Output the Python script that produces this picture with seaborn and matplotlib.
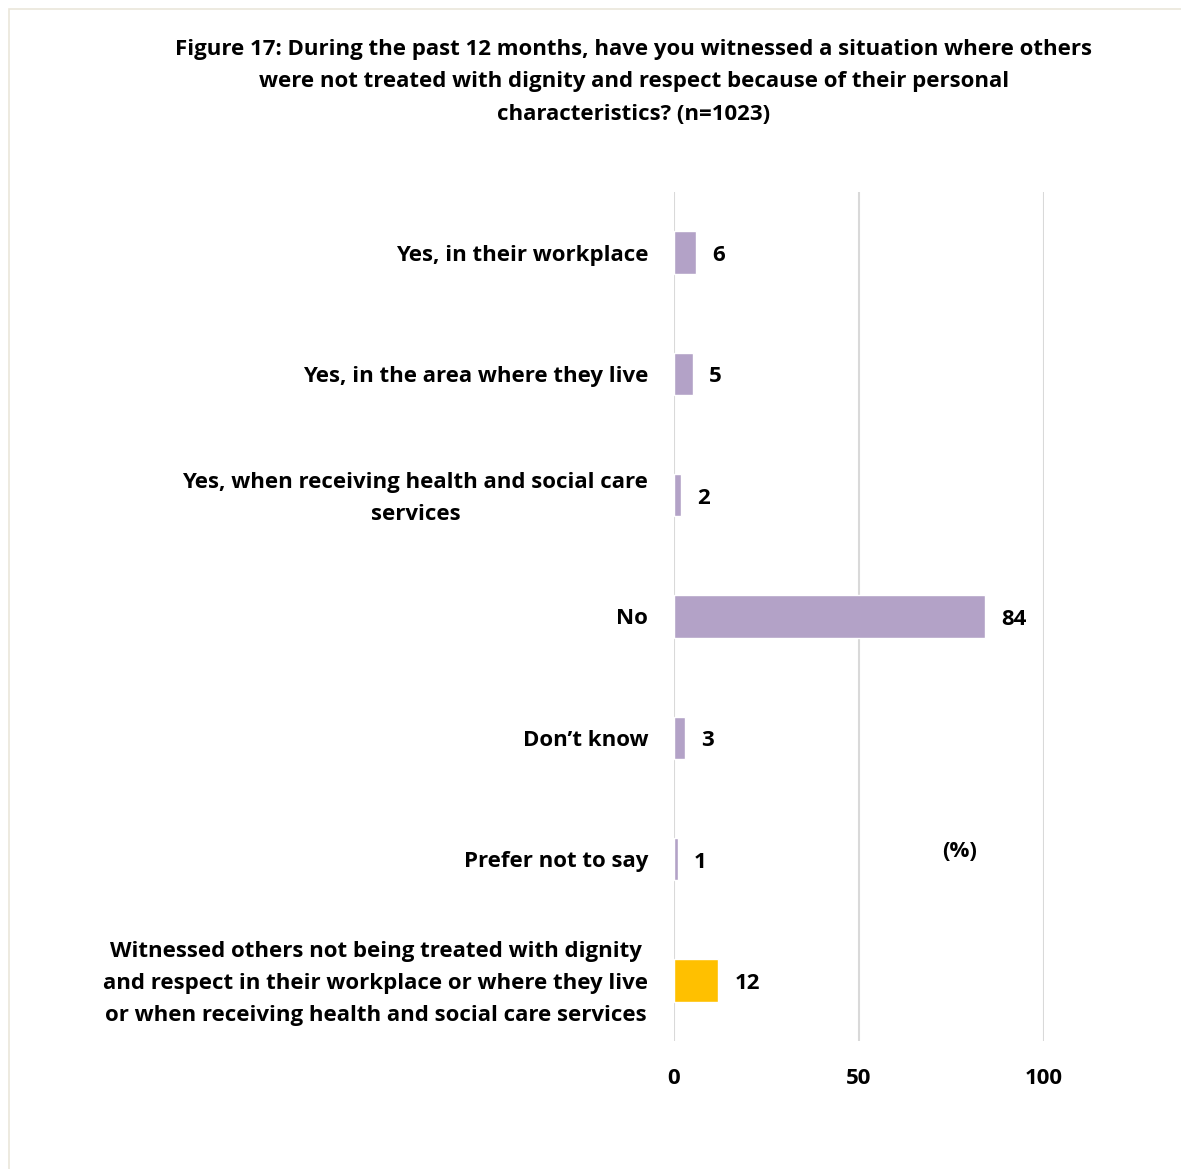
import matplotlib
matplotlib.use("Agg")
import matplotlib.pyplot as plt
from matplotlib.patches import Rectangle
from matplotlib.transforms import ScaledTranslation
import seaborn as sns
import pandas as pd

# Survey responses (percent of respondents, n=1023)
categories = [
    "Yes, in their workplace",
    "Yes, in the area where they live",
    "Yes, when receiving health and social care\nservices",
    "No",
    "Don\u2019t know",
    "Prefer not to say",
    "Witnessed others not being treated with dignity\nand respect in their workplace or where they live\nor when receiving health and social care services",
]
values = [6, 5, 2, 84, 3, 1, 12]
bar_colors = ["#B3A2C7", "#B3A2C7", "#B3A2C7", "#B3A2C7", "#B3A2C7", "#B3A2C7", "#FFC000"]
x_ticks = [0, 50, 100]

title_lines = [
    "Figure 17: During the past 12 months, have you witnessed a situation where others",
    "were not treated with dignity and respect because of their personal",
    "characteristics? (n=1023)",
]

df = pd.DataFrame({"category": categories, "value": values})

sns.set_theme(style="white")
plt.rcParams["font.family"] = ["Open Sans", "DejaVu Sans"]
plt.rcParams["font.weight"] = "bold"
FS = 16

W, H = 1181, 1169
fig = plt.figure(figsize=(W / 100, H / 100), dpi=100)
fig.patch.set_facecolor("white")

# thin frame around the chart area
fig.patches.append(Rectangle((9 / W, -0.01), 1.05, 1 - 9 / H + 0.01,
                             transform=fig.transFigure, fill=False,
                             edgecolor="#EAE6DA", linewidth=1.2))

left, right, top, bottom = 674, 1044, 192, 1041
ax = fig.add_axes([left / W, 1 - bottom / H, (right - left) / W, (bottom - top) / H])

sns.barplot(data=df, x="value", y="category", hue="category",
            palette=bar_colors, orient="h", width=0.35, legend=False,
            saturation=1, ax=ax)

ax.set_xlim(0, 100)
ax.set_xticks(x_ticks)
ax.set_xticklabels([str(t) for t in x_ticks])
ax.grid(axis="x", color="#D9D9D9", linewidth=1.5)
ax.grid(axis="y", visible=False)
ax.set_axisbelow(True)
for s in ax.spines.values():
    s.set_visible(False)
ax.set_xlabel("")
ax.set_ylabel("")
ax.tick_params(axis="y", length=0, pad=18.5, labelsize=FS)
ax.tick_params(axis="x", length=0, pad=19.5, labelsize=FS)

# multi-line category labels: centred lines, nudged up to sit on the bar centre
lift = ScaledTranslation(0, 5 / 100, fig.dpi_scale_trans)
for lab in ax.get_yticklabels():
    lab.set_multialignment("center")
    lab.set_linespacing(1.7)
    lab.set_fontweight("bold")
    lab.set_color("black")
    if "\n" in lab.get_text():
        lab.set_transform(lab.get_transform() + lift)
for lab in ax.get_xticklabels():
    lab.set_fontweight("bold")
    lab.set_color("black")

for cont in ax.containers:
    anns = ax.bar_label(cont, fmt="%d", padding=11.5, fontsize=FS,
                        fontweight="bold", color="black")
    for a in anns:
        dx, dy = a.xyann
        a.xyann = (dx, dy - 2.2)

ax.text(0.773, 0.223, "(%)", transform=ax.transAxes, ha="center", va="center",
        fontsize=FS, fontweight="bold", color="black")

for i, line in enumerate(title_lines):
    fig.text(634 / W, 1 - (50 + 32 * i) / H, line, ha="center", va="center",
             fontsize=FS, fontweight="bold", color="black")

fig.savefig("out.png", dpi=100, facecolor="white")
